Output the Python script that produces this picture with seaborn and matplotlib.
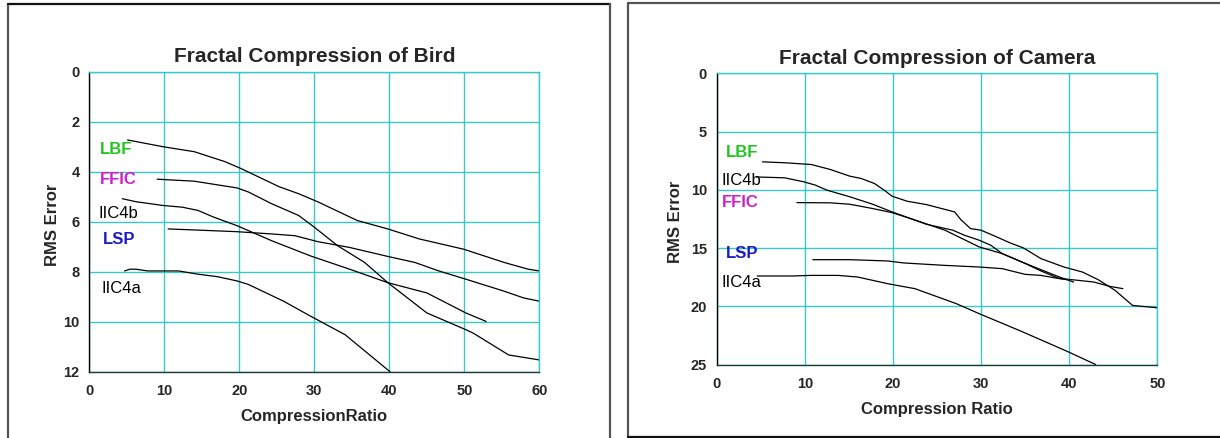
import numpy as np
import pandas as pd
import matplotlib
matplotlib.use('Agg')
import matplotlib.pyplot as plt
import seaborn as sns
from matplotlib.ticker import MultipleLocator

# Data (x = compression ratio, y = RMS error)
series_names = ['LBF', 'FFIC', 'IIC4b', 'LSP', 'IIC4a']

bird_lbf_x = [5.1, 9.8, 14.0, 18.1, 20.2, 25.3, 27.9, 30.5, 35.7, 39.8, 44.0, 49.9, 55.3, 58.5, 60.0]
bird_lbf_y = [2.73, 3.0, 3.2, 3.6, 3.87, 4.6, 4.88, 5.21, 5.95, 6.29, 6.69, 7.1, 7.63, 7.9, 7.97]
bird_ffic_x = [9.05, 14.0, 19.7, 21.2, 24.3, 27.9, 30.0, 33.1, 36.7, 39.8, 45.0, 50.2, 51.2, 55.9, 60.0]
bird_ffic_y = [4.3, 4.38, 4.65, 4.81, 5.28, 5.75, 6.22, 6.96, 7.63, 8.44, 9.65, 10.32, 10.46, 11.33, 11.53]
bird_iic4b_x = [4.4, 6.2, 9.8, 12.4, 14.5, 16.6, 19.7, 24.3, 29.5, 34.7, 39.8, 45.0, 50.2, 52.9]
bird_iic4b_y = [5.08, 5.2, 5.35, 5.42, 5.55, 5.82, 6.16, 6.76, 7.37, 7.9, 8.44, 8.85, 9.65, 9.99]
bird_lsp_x = [10.5, 14.0, 19.7, 24.3, 27.4, 30.5, 34.7, 39.8, 43.4, 46.6, 50.2, 55.3, 57.9, 60.0]
bird_lsp_y = [6.29, 6.33, 6.4, 6.49, 6.56, 6.8, 7.03, 7.39, 7.63, 7.97, 8.3, 8.78, 9.05, 9.18]
bird_iic4a_x = [4.7, 5.4, 6.2, 7.8, 10.3, 11.9, 14.5, 17.1, 19.7, 21.2, 25.9, 29.5, 34.1, 39.8, 40.1]
bird_iic4a_y = [7.97, 7.9, 7.9, 7.97, 7.97, 7.97, 8.1, 8.2, 8.37, 8.51, 9.18, 9.78, 10.52, 11.93, 12.0]

cam_lbf_x = [5.2, 7.7, 10.75, 12.9, 15.1, 16.4, 17.9, 19.0, 19.9, 21.6, 23.8, 27.0, 27.7, 28.8, 30.0,
             31.6, 33.3, 34.8, 36.8, 39.4, 41.5, 43.3, 45.2, 47.2, 50.0]
cam_lbf_y = [7.6, 7.68, 7.83, 8.26, 8.83, 9.03, 9.46, 10.03, 10.55, 10.98, 11.27, 11.9, 12.56, 13.33, 13.47,
             13.99, 14.56, 14.99, 15.91, 16.63, 17.06, 17.72, 18.63, 19.93, 20.13]
cam_iic4b_x = [4.5, 7.7, 9.9, 11.2, 12.5, 15.1, 17.7, 19.9, 22.0, 23.8, 26.8, 28.1, 29.8, 31.1, 32.4,
               34.6, 36.8, 38.9, 40.5]
cam_iic4b_y = [8.9, 8.97, 9.32, 9.6, 10.03, 10.6, 11.24, 11.9, 12.47, 12.96, 13.47, 13.9, 14.33, 14.76, 15.48,
               16.19, 16.86, 17.49, 17.92]
cam_ffic_x = [9.1, 12.9, 15.1, 17.7, 19.9, 22.0, 25.9, 29.8, 32.4, 34.6, 36.8, 38.9, 39.8]
cam_ffic_y = [11.1, 11.12, 11.24, 11.61, 11.96, 12.47, 13.47, 14.91, 15.48, 16.19, 16.97, 17.63, 17.72]
cam_lsp_x = [10.9, 15.1, 19.4, 21.2, 25.9, 29.8, 32.4, 35.0, 36.8, 38.5, 41.1, 42.8, 44.6, 46.1]
cam_lsp_y = [16.0, 16.0, 16.11, 16.28, 16.49, 16.63, 16.77, 17.26, 17.35, 17.58, 17.78, 17.92, 18.29, 18.49]
cam_iic4a_x = [4.6, 6.4, 8.6, 10.75, 13.8, 16.0, 19.4, 22.5, 27.2, 29.8, 34.6, 39.8, 43.0]
cam_iic4a_y = [17.4, 17.4, 17.4, 17.35, 17.35, 17.49, 18.06, 18.49, 19.78, 20.64, 22.16, 23.88, 25.0]

# label text placement (data coords, left edge / vertical centre)
bird_label_x = [1.43, 1.43, 1.2, 1.79, 1.65]
bird_label_y = [3.13, 4.31, 5.69, 6.7, 8.67]
cam_label_order = ['LBF', 'IIC4b', 'FFIC', 'LSP', 'IIC4a']
cam_label_x = [1.06, 0.57, 0.57, 1.06, 0.57]
cam_label_y = [6.82, 9.17, 11.12, 15.48, 18.0]

label_colors = {'LBF': '#22c522', 'FFIC': '#cc22cc', 'IIC4b': 'black', 'LSP': '#1c1cc4', 'IIC4a': 'black'}

sns.set_style('white')
plt.rcParams['font.family'] = ['Liberation Sans', 'DejaVu Sans']

GRID = '#38c8c8'


def to_frame(xs, ys):
    parts = []
    for name, x, y in zip(series_names, xs, ys):
        parts.append(pd.DataFrame({'ratio': x, 'rms': y, 'method': name}))
    return pd.concat(parts, ignore_index=True)


def style_axes(ax, xmax, ymax, ymajor, title, xlabel):
    ax.set_xlim(0, xmax)
    ax.set_ylim(ymax, 0)
    ax.xaxis.set_major_locator(MultipleLocator(10))
    ax.xaxis.set_minor_locator(MultipleLocator(2))
    ax.yaxis.set_major_locator(MultipleLocator(ymajor))
    ax.yaxis.set_minor_locator(MultipleLocator(1))
    ax.grid(True, which='major', color=GRID, lw=1.0)
    ax.tick_params(which='both', direction='in', labelsize=10.5, pad=7)
    ax.tick_params(axis='x', which='both', pad=9)
    ax.tick_params(which='major', length=4, color='black', width=0.8)
    ax.tick_params(which='minor', length=3, color='#555555', width=0.8)
    for lab in ax.get_xticklabels() + ax.get_yticklabels():
        lab.set_fontweight('bold')
    ax.spines['left'].set_color('black')
    ax.spines['bottom'].set_color('#1e3a3a')
    ax.spines['top'].set_color(GRID)
    ax.spines['right'].set_color(GRID)
    for s in ax.spines.values():
        s.set_linewidth(1.0)
        s.set_visible(True)
    ax.set_title(title, fontsize=15, fontweight='bold', pad=7)
    ax.set_xlabel(xlabel, fontsize=12, fontweight='bold', va='center')
    ax.set_ylabel('RMS Error', fontsize=12, fontweight='bold', va='center')


fig = plt.figure(figsize=(12.2, 4.38), dpi=100)
ax1 = fig.add_axes([0.0732, 0.1514, 0.3689, 0.6849])
ax2 = fig.add_axes([0.5875, 0.1678, 0.3611, 0.6648])

bird_df = to_frame([bird_lbf_x, bird_ffic_x, bird_iic4b_x, bird_lsp_x, bird_iic4a_x],
                   [bird_lbf_y, bird_ffic_y, bird_iic4b_y, bird_lsp_y, bird_iic4a_y])
cam_df = to_frame([cam_lbf_x, cam_ffic_x, cam_iic4b_x, cam_lsp_x, cam_iic4a_x],
                  [cam_lbf_y, cam_ffic_y, cam_iic4b_y, cam_lsp_y, cam_iic4a_y])

for ax, df in [(ax1, bird_df), (ax2, cam_df)]:
    sns.lineplot(data=df, x='ratio', y='rms', units='method', estimator=None, sort=False,
                 color='black', lw=0.9, ax=ax, legend=False)

style_axes(ax1, 60, 12, 2, 'Fractal Compression of Bird', 'CompressionRatio')
style_axes(ax2, 50, 25, 5, 'Fractal Compression of Camera', 'Compression Ratio')

ax1.xaxis.set_label_coords(0.5, -0.151)
ax1.yaxis.set_label_coords(-0.082, 0.49)
ax2.xaxis.set_label_coords(0.5, -0.153)
ax2.yaxis.set_label_coords(-0.0935, 0.489)

for name, x, y in zip(series_names, bird_label_x, bird_label_y):
    w = 'normal' if label_colors[name] == 'black' else 'bold'
    ax1.text(x, y, name, color=label_colors[name], fontsize=12, fontweight=w, ha='left', va='center')
for name, x, y in zip(cam_label_order, cam_label_x, cam_label_y):
    w = 'normal' if label_colors[name] == 'black' else 'bold'
    ax2.text(x, y, name, color=label_colors[name], fontsize=12, fontweight=w, ha='left', va='center')

# frames around each panel (figure pixel coords, y measured from top)
W, H = 1220.0, 438.0


def fig_line(xs, ys, color):
    fig.add_artist(plt.Line2D([x / W for x in xs], [1 - y / H for y in ys],
                              color=color, lw=1.6, transform=fig.transFigure))


fig_line([7.5, 7.5], [440, 4], '#555555')
fig_line([7.5, 609.5], [4, 4], '#111111')
fig_line([609.5, 609.5], [4, 440], '#555555')
fig_line([628, 628], [437, 3], '#555555')
fig_line([628, 1222], [3, 3], '#555555')
fig_line([628, 1222], [437, 437], '#111111')

fig.savefig('out.png', dpi=100)
